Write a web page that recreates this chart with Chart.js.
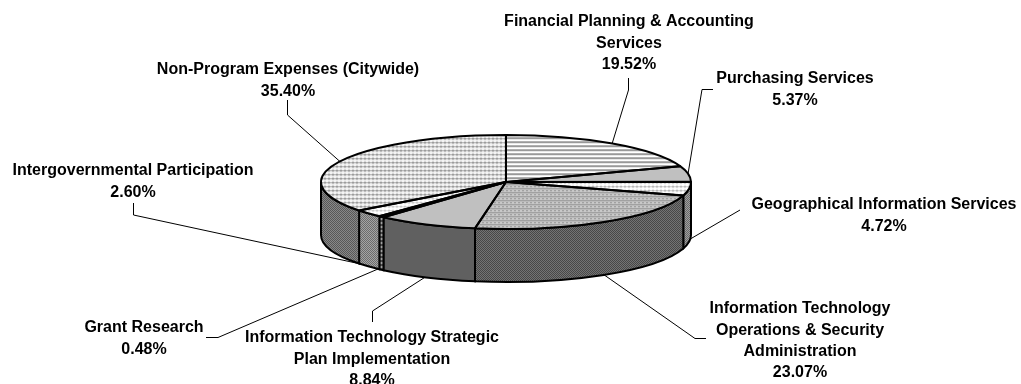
<!DOCTYPE html>
<html lang="en">
<head>
    <meta charset="UTF-8">
    <title>Expense pie</title>
    <script src="https://cdn.jsdelivr.net/npm/chart.js"></script>
    <style>
        body { margin: 0; background: #fff; }
        canvas { display: block; }
    </style>
</head>
<body>
    <canvas id="pie" width="1021" height="384"></canvas>

    <script>
        const categories = [
            'Financial Planning & Accounting Services',
            'Purchasing Services',
            'Geographical Information Services',
            'Information Technology Operations & Security Administration',
            'Information Technology Strategic Plan Implementation',
            'Grant Research',
            'Intergovernmental Participation',
            'Non-Program Expenses (Citywide)'
        ];
        const shares = [19.52, 5.37, 4.72, 23.07, 8.84, 0.48, 2.60, 35.40];

        // pie is flattened from a circle of radius RX to an ellipse
        const RX = 185, RY = 47, DEPTH = 53, CX = 506, CY = 182;

        // text lines, centre x, first line y
        const labels = [
            [['Financial Planning & Accounting', 'Services', '19.52%'], 629, 22],
            [['Purchasing Services', '5.37%'], 795, 79],
            [['Geographical Information Services', '4.72%'], 884, 205],
            [['Information Technology', 'Operations & Security', 'Administration', '23.07%'], 800, 309],
            [['Information Technology Strategic', 'Plan Implementation', '8.84%'], 372, 338],
            [['Grant Research', '0.48%'], 144, 328],
            [['Intergovernmental Participation', '2.60%'], 133, 171],
            [['Non-Program Expenses (Citywide)', '35.40%'], 288, 70]
        ];
        const leaders = [
            [[628.5, 78], [628.5, 90], [612, 144]],
            [[713, 89.5], [702, 89.5], [688, 174]],
            [[740, 210], [680, 245]],
            [[706, 338.5], [695, 338.5], [600, 272]],
            [[372.5, 322], [372.5, 311], [430, 274]],
            [[206, 337.5], [218, 337.5], [385, 266]],
            [[133.5, 203], [133.5, 215], [370, 266]],
            [[287.5, 100], [287.5, 115], [345, 166]]
        ];

        const ctx0 = document.getElementById('pie').getContext('2d');

        function tile(rows, colors, squash) {
            const c = document.createElement('canvas');
            c.width = rows[0].length;
            c.height = rows.length;
            const t = c.getContext('2d');
            rows.forEach((row, y) => {
                [...row].forEach((ch, x) => {
                    t.fillStyle = colors[ch];
                    t.fillRect(x, y, 1, 1);
                });
            });
            const p = ctx0.createPattern(c, 'repeat');
            if (squash) p.setTransform(new DOMMatrix().scale(1, RX / RY));
            return p;
        }

        const dots = ['.a..', 'abaa', '.a..', '....'];
        const check = ['ab', 'ba'];
        const lines = ['a', 'a', 'b', 'b'];

        function topFills(squash) {
            return [
                tile(lines, { a: '#999999', b: '#ffffff' }, squash),
                '#c0c0c0',
                tile(dots, { '.': '#ffffff', a: '#c8c8c8', b: '#909090' }, squash),
                tile(['.a.a', 'a.ab', '.a.a', 'abab'], { '.': '#e8e8e8', a: '#a8a8a8', b: '#808080' }, squash),
                '#c0c0c0',
                tile(lines, { a: '#999999', b: '#ffffff' }, squash),
                tile(dots, { '.': '#ffffff', a: '#d8d8d8', b: '#a8a8a8' }, squash),
                tile(dots, { '.': '#f4f4f4', a: '#a8a8a8', b: '#707070' }, squash)
            ];
        }
        const wallFills = [
            '#606060',
            '#606060',
            tile(check, { a: '#686868', b: '#a0a0a0' }),
            tile(check, { a: '#484848', b: '#747474' }),
            '#606060',
            tile(lines, { a: '#4c4c4c', b: '#a0a0a0' }),
            tile(check, { a: '#6c6c6c', b: '#a4a4a4' }),
            tile(check, { a: '#585858', b: '#888888' })
        ];

        const pie3d = {
            id: 'pie3d',
            beforeDatasetsDraw(chart) {
                const ctx = chart.ctx;
                const arcs = chart.getDatasetMeta(0).data;

                // leaders sit behind the pie
                ctx.strokeStyle = '#000';
                ctx.lineWidth = 1;
                leaders.forEach(pts => {
                    ctx.beginPath();
                    pts.forEach((p, i) => i ? ctx.lineTo(p[0], p[1]) : ctx.moveTo(p[0], p[1]));
                    ctx.stroke();
                });

                // side wall, only the front half shows
                ctx.lineWidth = 2;
                arcs.forEach((arc, i) => {
                    const a0 = Math.max(arc.startAngle, 0);
                    const a1 = Math.min(arc.endAngle, Math.PI);
                    if (a1 <= a0) return;
                    ctx.beginPath();
                    ctx.ellipse(CX, CY, RX, RY, 0, a0, a1);
                    ctx.lineTo(CX + RX * Math.cos(a1), CY + DEPTH + RY * Math.sin(a1));
                    ctx.ellipse(CX, CY + DEPTH, RX, RY, 0, a1, a0, true);
                    ctx.closePath();
                    ctx.fillStyle = wallFills[i];
                    ctx.fill();
                    ctx.stroke();
                });

                // slices are drawn by Chart.js as a circle, squash it here
                const first = arcs[0];
                ctx.save();
                ctx.translate(CX, CY);
                ctx.scale(1, RY / RX);
                ctx.translate(-first.x, -first.y);
            },
            afterDatasetsDraw(chart) {
                const ctx = chart.ctx;
                ctx.restore();

                ctx.strokeStyle = '#000';
                ctx.lineWidth = 2;
                ctx.lineJoin = 'round';
                chart.getDatasetMeta(0).data.forEach(arc => {
                    ctx.beginPath();
                    ctx.moveTo(CX, CY);
                    ctx.ellipse(CX, CY, RX, RY, 0, arc.startAngle, arc.endAngle);
                    ctx.closePath();
                    ctx.stroke();
                });

                ctx.fillStyle = '#000';
                ctx.font = 'bold 16px "Liberation Sans", Arial, sans-serif';
                ctx.textAlign = 'center';
                ctx.textBaseline = 'middle';
                labels.forEach(([text, x, y]) => {
                    text.forEach((line, i) => ctx.fillText(line, x, y + i * 21.2));
                });
            }
        };

        new Chart(ctx0, {
            type: 'pie',
            data: {
                labels: categories,
                datasets: [{
                    data: shares,
                    backgroundColor: topFills(true),
                    borderWidth: 0
                }]
            },
            options: {
                responsive: false,
                animation: false,
                events: [],
                radius: RX,
                layout: { padding: 0 },
                plugins: { legend: { display: false }, tooltip: { enabled: false } }
            },
            plugins: [pie3d]
        });
    </script>
</body>
</html>
